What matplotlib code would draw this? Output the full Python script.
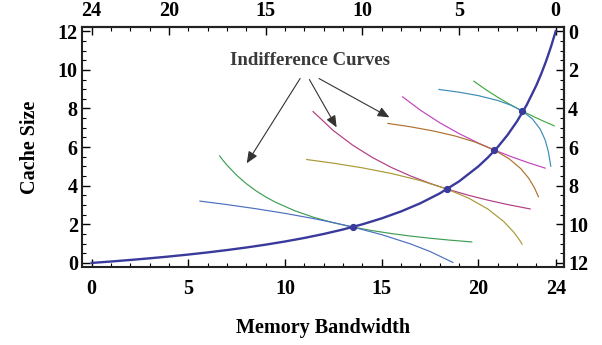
import matplotlib
matplotlib.use("Agg")
import matplotlib.pyplot as plt
from matplotlib.ticker import MultipleLocator, FixedLocator

# ---------------- data ----------------
contract_x = [0, 1, 2, 3, 4, 5, 6, 7, 8, 9, 10, 11, 12, 13, 14, 15, 16, 17, 18, 19,
              20, 20.5, 21, 21.5, 22, 22.5, 23, 23.25, 23.5, 23.75, 24]
contract_y = [0, 0.074, 0.154, 0.24, 0.333, 0.435, 0.545, 0.667, 0.8, 0.947, 1.111,
              1.294, 1.5, 1.733, 2.0, 2.308, 2.667, 3.091, 3.6, 4.222, 5.0, 5.467,
              6.0, 6.615, 7.333, 8.182, 9.2, 9.79, 10.444, 11.177, 12.0]

eq_x = [13.53, 18.37, 20.83, 22.28]
eq_y = [1.86, 3.83, 5.85, 7.86]

# indifference curves
c1a_x = [6.6, 6.8, 7.0, 7.5, 8.0, 8.5, 9.0, 9.5, 10.5, 11.5, 12.5, 13.5, 14.5, 15.5,
         16.5, 17.5, 18.5, 19.69]
c1a_y = [5.57, 5.303, 5.065, 4.54, 4.104, 3.735, 3.42, 3.148, 2.704, 2.358, 2.083,
         1.86, 1.676, 1.522, 1.391, 1.28, 1.183, 1.086]

c1b_x = [5.57, 7, 8.5, 10, 11.5, 12.5, 13.5, 15, 16.5, 17.5, 18.71]
c1b_y = [3.206, 3.022, 2.807, 2.567, 2.293, 2.088, 1.86, 1.465, 0.983, 0.593, 0.013]

c2a_x = [11.43, 12.5, 13.5, 14.5, 15.5, 16.5, 17.5, 18.37, 19.5, 20.5, 21.5, 22.71]
c2a_y = [7.86, 6.854, 6.099, 5.472, 4.946, 4.501, 4.12, 3.83, 3.502, 3.25, 3.027, 2.79]

c2b_x = [11.09, 12.5, 14, 15.5, 17, 18.37, 19.5, 20.5, 21.3, 21.8, 22.05, 22.28]
c2b_y = [5.36, 5.167, 4.925, 4.633, 4.265, 3.83, 3.355, 2.786, 2.156, 1.627, 1.3, 0.95]

c3a_x = [16.06, 17, 18, 19, 20, 20.83, 21.7, 22.6, 23.49]
c3a_y = [8.62, 7.912, 7.262, 6.7, 6.208, 5.846, 5.504, 5.184, 4.9]

c3b_x = [15.29, 16.5, 17.7, 18.8, 19.8, 20.83, 21.6, 22.2, 22.6, 22.9, 23.12]
c3b_y = [7.23, 7.049, 6.829, 6.573, 6.272, 5.846, 5.389, 4.877, 4.394, 3.894, 3.4]

c4a_x = [19.74, 20.4, 21, 21.6, 22.28, 22.9, 23.45, 23.95]
c4a_y = [9.43, 8.965, 8.582, 8.229, 7.863, 7.558, 7.306, 7.09]

c4b_x = [17.93, 19, 20, 21, 21.7, 22.28, 22.8, 23.2, 23.45, 23.62, 23.75]
c4b_y = [8.99, 8.843, 8.664, 8.414, 8.162, 7.863, 7.452, 6.929, 6.38, 5.77, 4.98]

curves = [
    (c1a_x, c1a_y, "#3f9e55"),
    (c1b_x, c1b_y, "#4b6fbf"),
    (c2a_x, c2a_y, "#b23c82"),
    (c2b_x, c2b_y, "#a89a35"),
    (c3a_x, c3a_y, "#c044bd"),
    (c3b_x, c3b_y, "#b0702e"),
    (c4a_x, c4a_y, "#45a845"),
    (c4b_x, c4b_y, "#3c8db5"),
]

bottom_ticks = [0, 5, 10, 15, 20, 24]
top_ticks = [24, 20, 15, 10, 5, 0]
left_ticks = [0, 2, 4, 6, 8, 10, 12]
right_ticks = [0, 2, 4, 6, 8, 10, 12]

label_text = "Indifference Curves"
label_pos = (11.29, 10.5)
arrow_starts = [(10.78, 9.55), (11.26, 9.5), (11.76, 9.55)]
arrow_tips = [(8.02, 5.16), (12.67, 7.02), (15.40, 7.54)]

# ---------------- figure ----------------
plt.rcParams['font.family'] = ['Liberation Serif', 'DejaVu Serif']
plt.rcParams['font.weight'] = 'bold'

fig = plt.figure(figsize=(6.02, 3.45), dpi=100)
ax = fig.add_axes([0.1362, 0.2261, 0.8007, 0.6957])

for xs, ys, col in curves:
    ax.plot(xs, ys, color=col, lw=0.85, solid_capstyle='butt',
            solid_joinstyle='round', zorder=2)

ax.plot(contract_x, contract_y, color="#3a3a9c", lw=1.7, zorder=3,
        solid_joinstyle='round')
ax.plot(eq_x, eq_y, 'o', color="#3a3a9c", ms=4.2, zorder=4)

ax.set_xlim(-0.5, 24.43)
ax.set_ylim(-0.21, 12.22)

# annotation
ax.text(label_pos[0], label_pos[1], label_text, ha='center', va='center',
        fontsize=13.5, fontweight='bold', color='#3a3a3a')
for s, t in zip(arrow_starts, arrow_tips):
    ax.annotate("", xy=t, xytext=s,
                arrowprops=dict(arrowstyle='-|>,head_length=0.7,head_width=0.3',
                                color='#333333', lw=0.8, shrinkA=0, shrinkB=0))

# spines
for sp in ax.spines.values():
    sp.set_linewidth(1.5)
    sp.set_color('#222222')

tick_font = dict(fontsize=14.5, fontweight='bold')

ax.xaxis.set_major_locator(FixedLocator(bottom_ticks))
ax.xaxis.set_minor_locator(MultipleLocator(1))
ax.yaxis.set_major_locator(FixedLocator(left_ticks))
ax.yaxis.set_minor_locator(MultipleLocator(0.5))
ax.set_xticklabels([str(v) for v in bottom_ticks], **tick_font)
ax.set_yticklabels([str(v) for v in left_ticks], **tick_font)
ax.tick_params(axis='x', which='major', direction='in', length=6, width=1.0, pad=9)
ax.tick_params(axis='y', which='major', direction='in', length=6, width=1.0, pad=3)
ax.tick_params(which='minor', direction='in', length=3, width=0.8)

secx = ax.secondary_xaxis('top', functions=(lambda x: 24 - x, lambda x: 24 - x))
secx.xaxis.set_minor_locator(MultipleLocator(1))
secx.set_xticks(top_ticks)
secx.set_xticklabels([str(v) for v in top_ticks], **tick_font)
secx.tick_params(which='major', direction='in', length=6, width=1.0, pad=4)
secx.tick_params(which='minor', direction='in', length=3, width=0.8)
secx.spines['top'].set_linewidth(1.5)

secy = ax.secondary_yaxis('right', functions=(lambda y: 12 - y, lambda y: 12 - y))
secy.yaxis.set_minor_locator(MultipleLocator(0.5))
secy.set_yticks(right_ticks)
secy.set_yticklabels([str(v) for v in right_ticks], **tick_font)
secy.tick_params(which='major', direction='in', length=6, width=1.0, pad=3)
secy.tick_params(which='minor', direction='in', length=3, width=0.8)
secy.spines['right'].set_linewidth(1.5)

ax.set_xlabel("Memory Bandwidth", fontsize=14.5, fontweight='bold', labelpad=13)
ax.set_ylabel("Cache Size", fontsize=14.5, fontweight='bold', labelpad=13)

fig.savefig("out.png", dpi=100)
